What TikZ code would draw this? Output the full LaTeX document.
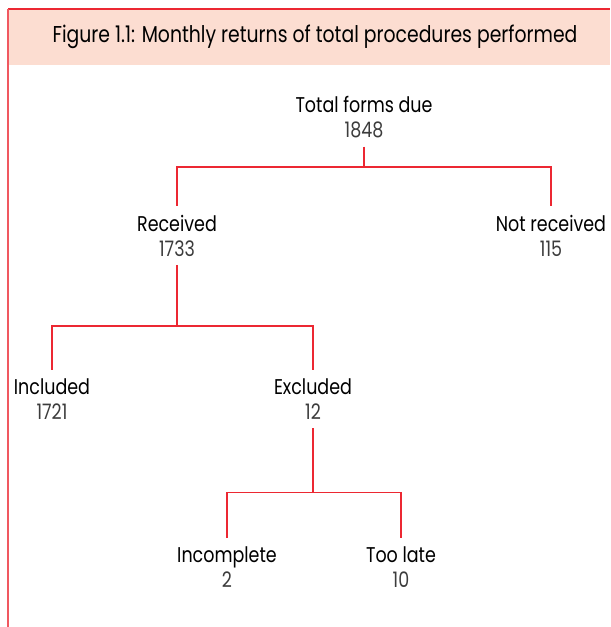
\documentclass[tikz,border=0pt]{standalone}
\usepackage{fontspec}
\setmainfont{Poppins}[FakeStretch=0.82]
\usetikzlibrary{positioning}
\definecolor{linered}{RGB}{236,40,50}
\definecolor{barred}{RGB}{240,88,96}
\definecolor{headpink}{RGB}{252,221,209}
\definecolor{numgrey}{RGB}{60,60,60}
\newcommand{\cnt}[1]{\\\textcolor{numgrey}{#1}}

\begin{document}
\begin{tikzpicture}[x=0.75pt, y=-0.75pt, line width=1pt]
 \tikzstyle{block} = [align=center, inner xsep=0pt, inner ysep=6pt,
   font=\fontsize{16}{18.75}\selectfont]
 \tikzstyle{link} = [draw=linered]
 \useasboundingbox (0,0) rectangle (610,627);

 % header band and left rule
 \fill[headpink] (8,9) rectangle (610,65.5);
 \draw[linered] (8,9) -- (610,9);
 \draw[barred, line width=1.4pt] (8,9) -- (8,627);
 \node[font=\fontsize{17.2}{18}\selectfont] (title) at (315,37)
   {Figure 1.1: Monthly returns of total procedures performed};

 % tree
   \node[block] (total) at (364,117) {Total forms due\cnt{1848}};
   \node[block] (recv) at (177,235.5) {Received\cnt{1733}};
   \node[block] (notrecv) at (551,235.5) {Not received\cnt{115}};
   \node[block] (incl) at (52,399) {Included\cnt{1721}};
   \node[block] (excl) at (313,399) {Excluded\cnt{12}};
   \node[block] (incompl) at (227,567.5) {Incomplete\cnt{2}};
   \node[block] (late) at (401,567.5) {Too late\cnt{10}};

 \coordinate (f1) at (364,167);
 \coordinate (f2) at (177,326);
 \coordinate (f3) at (313,492.5);

 \draw[link] (total) -- (f1) -| (recv) (f1) -| (notrecv);
 \draw[link] (recv) -- (f2) -| (incl) (f2) -| (excl);
 \draw[link] (excl) -- (f3) -| (incompl) (f3) -| (late);
\end{tikzpicture}
\end{document}
